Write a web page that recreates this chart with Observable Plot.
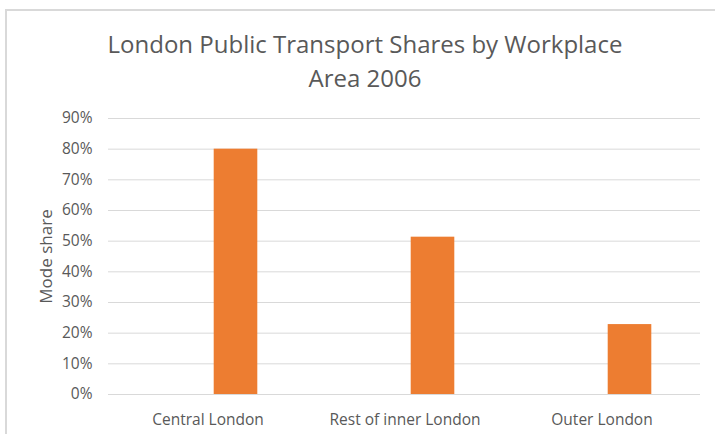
<!DOCTYPE html>
<html>
<head>
<meta charset="utf-8">
<script src="https://cdn.jsdelivr.net/npm/d3@7"></script>
<script src="https://cdn.jsdelivr.net/npm/@observablehq/plot@0.6"></script>
<style>
  html, body { margin: 0; padding: 0; background: #fff; }
  body { width: 715px; height: 434px; overflow: hidden; position: relative; font-family: "Open Sans", sans-serif; }
  #frame { position: absolute; left: 5px; top: 9px; right: -2px; bottom: -2px; border-left: 2px solid #d9d9d9; border-top: 2px solid #d9d9d9; }
  #title { position: absolute; left: 0; top: 0; width: 730px; height: 100px; text-align: center; color: #595959; font-size: 24px; line-height: 33px; }
  #title .l1 { position: absolute; left: 0; right: 0; top: 27px; }
  #title .l2 { position: absolute; left: 0; right: 0; top: 61px; }
  #chart { position: absolute; left: 0; top: 100px; }
</style>
</head>
<body>
<div id="frame"></div>
<div id="title"><div class="l1">London Public Transport Shares by Workplace</div><div class="l2">Area 2006</div></div>
<div id="chart"></div>
<script>
const categories = ["Central London", "Rest of inner London", "Outer London"];
const shares = [0.80, 0.513, 0.228];
const yTicks = [0, 0.1, 0.2, 0.3, 0.4, 0.5, 0.6, 0.7, 0.8, 0.9];
const yLabel = "Mode share";

const data = categories.map((c, i) => ({category: c, share: shares[i]}));

const plot = Plot.plot({
  width: 715,
  height: 334,
  marginTop: 18,
  marginBottom: 40,
  marginLeft: 108,
  marginRight: 15,
  style: {fontFamily: "'Open Sans', sans-serif", fontSize: "15.5px", color: "#595959", background: "transparent"},
  x: {domain: categories, padding: 0, label: null, tickSize: 0, tickPadding: 19},
  y: {domain: [0, 0.9], ticks: yTicks, tickFormat: d3.format(".0%"), label: null, tickSize: 0, tickPadding: 16},
  marks: [
    Plot.ruleY(yTicks, {stroke: "#d9d9d9", strokeWidth: 1}),
    Plot.barY(data, {x: "category", y: "share", fill: "#ED7D31", insetLeft: 104.7, insetRight: 48.7}),
    Plot.text([yLabel], {frameAnchor: "left", textAnchor: "middle", rotate: -90, dx: -62, fontSize: 17, fill: "#595959"})
  ]
});
document.getElementById("chart").appendChild(plot);
</script>
</body>
</html>
